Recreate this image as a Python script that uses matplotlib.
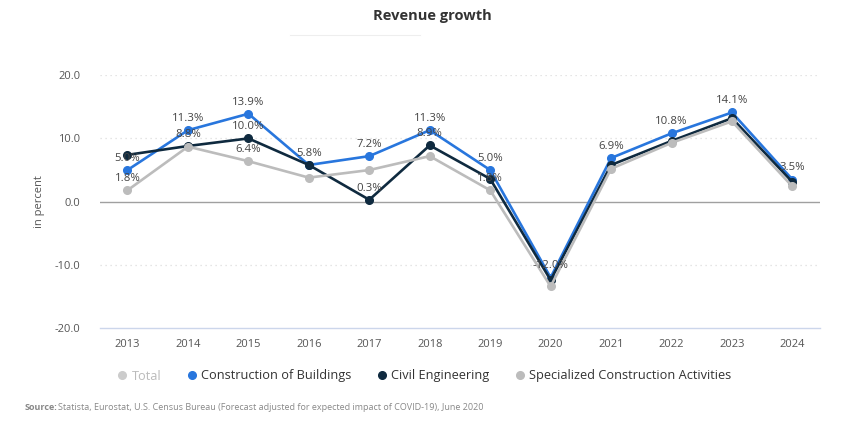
import numpy as np
import matplotlib.pyplot as plt
import matplotlib.lines as mlines

plt.rcParams['font.family'] = ['Open Sans', 'DejaVu Sans']

years = ['2013', '2014', '2015', '2016', '2017', '2018', '2019', '2020', '2021', '2022', '2023', '2024']
buildings = [5.0, 11.3, 13.9, 5.8, 7.2, 11.3, 5.0, -12.0, 6.9, 10.8, 14.1, 3.5]
civil = [7.4, 8.8, 10.0, 5.8, 0.3, 8.9, 3.6, -12.4, 5.8, 9.6, 13.2, 3.1]
specialized = [1.8, 8.7, 6.4, 3.8, 5.0, 7.2, 1.8, -13.4, 5.2, 9.3, 12.7, 2.4]

# which data labels are visible (the rest are hidden by overlap)
show_buildings = [1, 1, 1, 1, 1, 1, 1, 1, 1, 1, 1, 1]
show_civil = [0, 1, 1, 0, 1, 1, 0, 0, 0, 0, 0, 0]
show_specialized = [1, 0, 1, 0, 0, 0, 1, 0, 0, 0, 0, 0]

c_blue = '#2876dd'
c_navy = '#0f2a3f'
c_gray = '#bcbcbc'
c_total = '#cccccc'

fig = plt.figure(figsize=(8.52, 4.37), dpi=100)
ax = fig.add_axes([0.117, 0.249, 0.845, 0.579])

x = np.arange(len(years))
series = [(buildings, c_blue, 'Construction of Buildings', show_buildings, 3),
          (civil, c_navy, 'Civil Engineering', show_civil, 4),
          (specialized, c_gray, 'Specialized Construction Activities', show_specialized, 5)]

for vals, col, name, show, z in series:
    ax.plot(x, vals, color=col, lw=1.9, marker='o', ms=5.5, zorder=z, label=name,
            solid_joinstyle='round')
    for xi, v, s in zip(x, vals, show):
        if s:
            ax.annotate(f'{v:.1f}%', (xi, v), xytext=(0, 4.5), textcoords='offset points',
                        ha='center', va='bottom', fontsize=8.2, color='#444444', zorder=10)

ax.set_xlim(-0.46, 11.45)
ax.set_ylim(-20, 20)
ax.set_yticks([-20, -10, 0, 10, 20])
ax.set_yticklabels([f'{v:.1f}' for v in [-20, -10, 0, 10, 20]])
ax.set_xticks(x)
ax.set_xticklabels(years)
ax.tick_params(axis='both', length=0, labelsize=8, colors='#555555')
ax.tick_params(axis='y', pad=14)
ax.tick_params(axis='x', pad=8)

for v in [10, 20, -10]:
    ax.axhline(v, color='#dddddd', lw=0.9, ls=(0, (1, 3)), zorder=0)
ax.axhline(0, color='#a0a0a0', lw=1.0, zorder=1)

for s in ['top', 'right', 'left']:
    ax.spines[s].set_visible(False)
ax.spines['bottom'].set_color('#ccd6eb')
ax.spines['bottom'].set_linewidth(1.0)

ax.set_ylabel('in percent', fontsize=8, color='#555555', labelpad=7)

fig.text(0.507, 0.963, 'Revenue growth', ha='center', va='center', fontsize=10.5,
         fontweight='bold', color='#333333')
fig.add_artist(mlines.Line2D([290 / 852, 420 / 852], [1 - 35 / 437, 1 - 35 / 437],
                             color='#eeeeee', lw=0.8))

# legend (Total series is hidden, shown greyed out)
handles = [mlines.Line2D([], [], color=c_total, marker='o', ls='none', ms=5.5),
           mlines.Line2D([], [], color=c_blue, marker='o', ls='none', ms=5.5),
           mlines.Line2D([], [], color=c_navy, marker='o', ls='none', ms=5.5),
           mlines.Line2D([], [], color=c_gray, marker='o', ls='none', ms=5.5)]
labels = ['Total', 'Construction of Buildings', 'Civil Engineering', 'Specialized Construction Activities']
leg = fig.legend(handles, labels, loc='center', bbox_to_anchor=(0.497, 1 - 376 / 437), ncol=4,
                 frameon=False, fontsize=9.2, handletextpad=0.2, columnspacing=1.9,
                 handlelength=1.0)
texts = leg.get_texts()
texts[0].set_color('#bbbbbb')
for t in texts[1:]:
    t.set_color('#333333')

fig.text(25 / 852, 1 - 408 / 437, 'Source:', fontsize=6.5, fontweight='bold', color='#888888',
         ha='left', va='center')
fig.text(58 / 852, 1 - 408 / 437,
         'Statista, Eurostat, U.S. Census Bureau (Forecast adjusted for expected impact of COVID-19), June 2020',
         fontsize=6.5, color='#888888', ha='left', va='center')

fig.savefig('out.png', dpi=100)
